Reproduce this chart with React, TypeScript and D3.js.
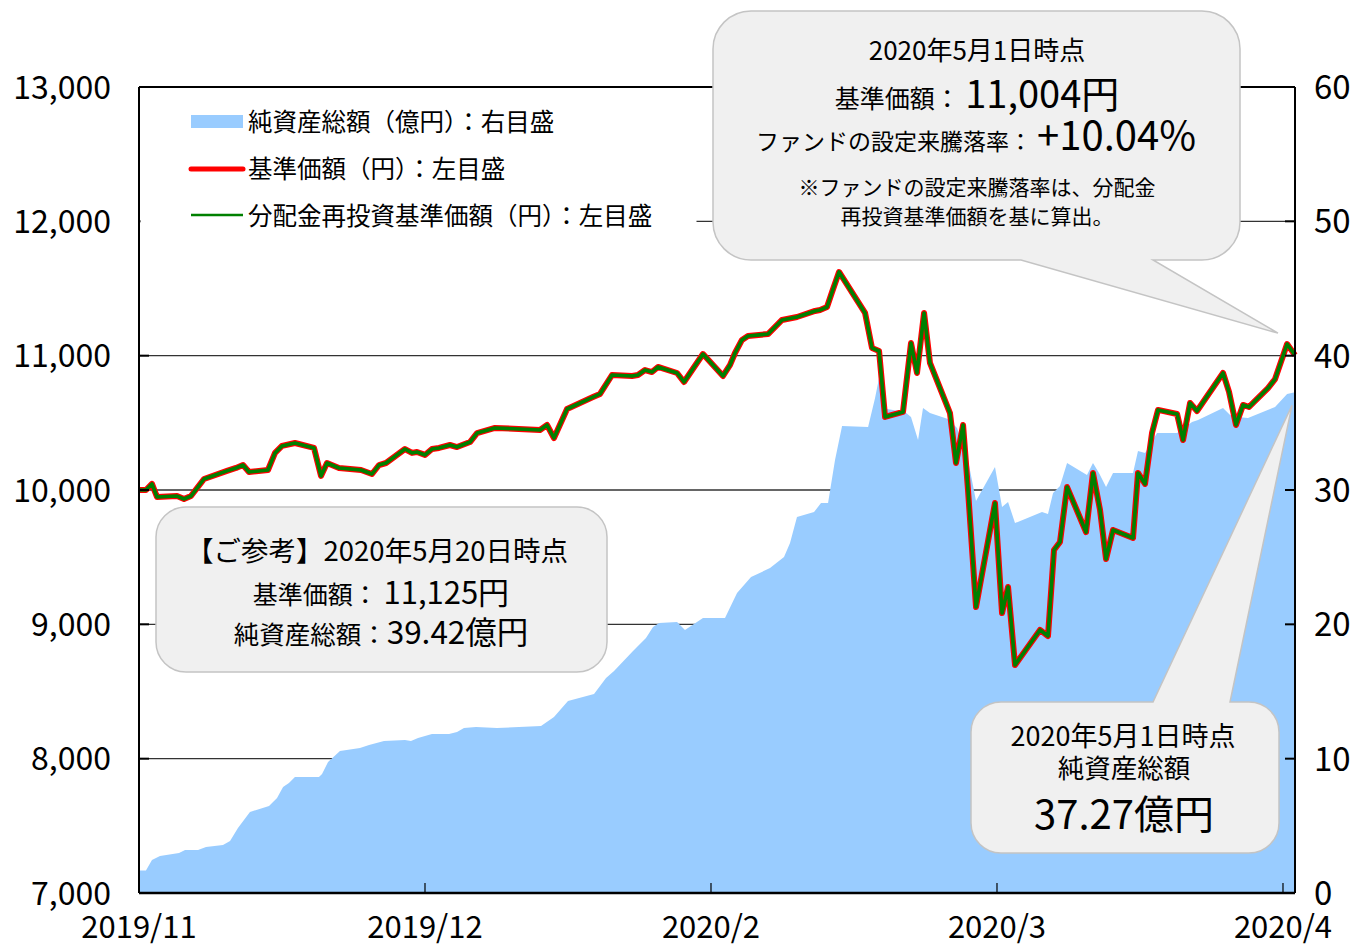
import React from "react";
import * as d3 from "d3";

// ---- data (x = days since start, ~30 days per axis month) ----
const tickLabels = ["2019/11", "2019/12", "2020/2", "2020/3", "2020/4"];
const tickDays = [0, 30, 60, 90, 120];

const navDay = [0,0.73,1.36,1.89,3.99,4.72,5.45,6.82,9.23,10.18,10.91,11.54,13.53,14.27,15.0,16.36,18.36,19.09,19.72,20.98,23.29,24.44,25.18,25.91,27.9,28.64,29.16,30.0,30.73,31.47,32.62,33.36,34.72,35.46,37.34,42.06,42.8,43.53,44.9,47.62,48.36,49.62,51.72,52.34,53.08,53.81,54.44,56.44,57.17,59.16,61.26,62.0,62.52,63.25,63.88,65.98,67.45,69.02,70.91,71.44,72.17,72.7,73.43,76.16,76.89,77.63,78.26,80.14,80.98,81.61,82.35,82.97,85.07,85.7,86.44,86.96,87.8,89.79,90.53,91.16,91.89,94.51,95.35,95.98,96.61,97.35,99.34,100.07,100.81,101.44,102.17,104.27,104.79,105.53,106.26,106.89,108.89,109.52,110.25,110.98,113.71,114.34,115.07,115.81,116.44,118.43,119.17,120.43,121.26];
const navVal = [10000,10000,10045,9948,9955,9933,9955,10082,10142,10164,10186,10134,10149,10276,10328,10350,10313,10105,10201,10164,10149,10119,10186,10201,10305,10276,10283,10261,10305,10313,10335,10320,10357,10424,10462,10447,10484,10387,10603,10692,10715,10856,10849,10856,10893,10878,10916,10871,10804,11012,10849,10931,11020,11117,11147,11161,11266,11288,11333,11340,11362,11474,11623,11318,11057,11035,10544,10581,11094,10871,11318,10946,10573,10201,10484,10000,9129,9903,9084,9278,8697,8958,8913,9553,9613,10022,9687,10127,9851,9486,9702,9643,10127,10045,10424,10596,10566,10372,10648,10588,10871,10730,10484,10633,10618,10759,10826,11087,11004];

const aumDay = [0,0.73,1.36,2.2,4.2,4.83,6.19,7.03,8.81,9.55,10.38,11.64,13.64,14.48,15.11,15.73,16.36,18.88,19.2,19.83,21.08,23.18,24.13,25.7,27.9,28.53,29.27,30.73,32.52,33.36,34.09,35.35,37.55,42.17,43.53,45.0,47.73,48.99,49.83,51.82,53.18,53.92,54.55,56.44,57.27,59.16,61.47,62.73,64.2,66.19,67.66,68.29,69.02,70.81,71.54,72.28,73.01,73.75,76.48,77.21,77.63,78.46,80.35,80.98,81.72,82.24,82.97,84.86,85.81,86.96,87.8,89.79,90.53,91.16,91.89,94.72,95.35,95.88,96.61,97.35,99.44,100.07,100.7,101.44,102.17,104.27,104.79,105.53,106.79,108.89,110.46,111.09,113.71,114.45,115.18,116.33,119.17,120.43,121.26];
const aumVal = [1.67,1.67,2.46,2.75,2.98,3.2,3.2,3.42,3.57,3.87,4.84,6.03,6.48,7.07,7.89,8.19,8.64,8.64,8.86,9.75,10.57,10.79,11.02,11.32,11.39,11.32,11.54,11.84,11.84,11.99,12.28,12.36,12.28,12.43,13.1,14.29,14.81,16.01,16.53,18.02,18.98,19.8,20.1,20.17,19.58,20.47,20.47,22.33,23.52,24.19,25.01,26.06,27.99,28.36,29.03,29.03,32.23,34.77,34.69,36.85,38.34,36.03,35.81,35.43,33.72,36.1,35.73,35.29,34.62,32.23,29.18,31.71,28.74,29.11,27.54,28.36,28.21,29.78,30.3,32.01,31.12,32.01,31.27,30.22,31.27,31.27,32.9,32.76,34.24,34.24,35.06,35.21,36.1,35.58,35.43,35.36,36.18,37.15,37.27];

const leftTicks = [7000, 8000, 9000, 10000, 11000, 12000, 13000];
const rightTicks = [0, 10, 20, 30, 40, 50, 60];
const legendItems = ["純資産総額（億円）：右目盛", "基準価額（円）：左目盛", "分配金再投資基準価額（円）：左目盛"];

const FONT = "'Noto Sans CJK JP', 'Noto Sans', sans-serif";

export default function App() {
  const W = 1360, H = 947;
  const L = 139, R = 1295, T = 87, B = 893;
  const x = d3.scaleLinear().domain([0, 121.26]).range([L, R]);
  const yL = d3.scaleLinear().domain([7000, 13000]).range([B, T]);
  const yR = d3.scaleLinear().domain([0, 60]).range([B, T]);

  const nav = navDay.map((d, i) => [d, navVal[i]] as [number, number]).filter((p) => p[1] != null);
  const aum = aumDay.map((d, i) => [d, aumVal[i]] as [number, number]).filter((p) => p[1] != null);

  const areaGen = d3.area<[number, number]>().x((d) => x(d[0])).y0(yR(0)).y1((d) => yR(d[1]));
  const lineGen = d3.line<[number, number]>().x((d) => x(d[0])).y((d) => yL(d[1]));

  const lastNav = nav[nav.length - 1];
  const lastAum = aum[aum.length - 1];

  const calloutBottom = (x0: number, y0: number, w: number, h: number, r: number, b1: number, b2: number, tx: number, ty: number) =>
    `M${x0 + r},${y0} H${x0 + w - r} A${r},${r} 0 0 1 ${x0 + w},${y0 + r} V${y0 + h - r} A${r},${r} 0 0 1 ${x0 + w - r},${y0 + h} H${b2} L${tx},${ty} L${b1},${y0 + h} H${x0 + r} A${r},${r} 0 0 1 ${x0},${y0 + h - r} V${y0 + r} A${r},${r} 0 0 1 ${x0 + r},${y0} Z`;
  const calloutTop = (x0: number, y0: number, w: number, h: number, r: number, b1: number, b2: number, tx: number, ty: number) =>
    `M${x0 + r},${y0} H${b1} L${tx},${ty} L${b2},${y0} H${x0 + w - r} A${r},${r} 0 0 1 ${x0 + w},${y0 + r} V${y0 + h - r} A${r},${r} 0 0 1 ${x0 + w - r},${y0 + h} H${x0 + r} A${r},${r} 0 0 1 ${x0},${y0 + h - r} V${y0 + r} A${r},${r} 0 0 1 ${x0 + r},${y0} Z`;
  const roundRect = (x0: number, y0: number, w: number, h: number, r: number) =>
    `M${x0 + r},${y0} H${x0 + w - r} A${r},${r} 0 0 1 ${x0 + w},${y0 + r} V${y0 + h - r} A${r},${r} 0 0 1 ${x0 + w - r},${y0 + h} H${x0 + r} A${r},${r} 0 0 1 ${x0},${y0 + h - r} V${y0 + r} A${r},${r} 0 0 1 ${x0 + r},${y0} Z`;

  const cFill = "#f0f0f0";
  const cStroke = "#c4c4c4";

  return (
    <svg width={W} height={H} style={{ position: "absolute", left: 0, top: 0, background: "#fff" }} fontFamily={FONT}>
      <defs>
        <clipPath id="plot">
          <rect x={L} y={T} width={R - L} height={B - T} />
        </clipPath>
      </defs>
      {leftTicks.slice(1, -1).map((v) => (
        <line key={v} x1={L} x2={R} y1={yL(v)} y2={yL(v)} stroke="#333" strokeWidth={1.3} />
      ))}
      <path d={areaGen(aum) || ""} fill="#99ccff" clipPath="url(#plot)" />
      <path d={lineGen(nav) || ""} fill="none" stroke="#ff0000" strokeWidth={6} strokeLinejoin="round" />
      <path d={lineGen(nav) || ""} fill="none" stroke="#008000" strokeWidth={3.6} strokeLinejoin="round" />
      <line x1={L} x2={R} y1={T} y2={T} stroke="#000" strokeWidth={2} />
      <line x1={L} x2={R} y1={B} y2={B} stroke="#000" strokeWidth={2.5} />
      <line x1={L} x2={L} y1={T} y2={B} stroke="#000" strokeWidth={2} />
      <line x1={R} x2={R} y1={T} y2={B} stroke="#000" strokeWidth={2} />
      {leftTicks.map((v) => (
        <g key={"l" + v}>
          <line x1={L} x2={L + 10} y1={yL(v)} y2={yL(v)} stroke="#000" strokeWidth={2} />
          <text x={111} y={yL(v)} dy="0.36em" textAnchor="end" fontSize={32} fill="#000">
            {d3.format(",")(v)}
          </text>
        </g>
      ))}
      {rightTicks.map((v) => (
        <g key={"r" + v}>
          <line x1={R - 10} x2={R} y1={yR(v)} y2={yR(v)} stroke="#000" strokeWidth={2} />
          <text x={1314} y={yR(v)} dy="0.36em" textAnchor="start" fontSize={33} fill="#000">
            {v}
          </text>
        </g>
      ))}
      {tickDays.map((d, i) => (
        <g key={"b" + d}>
          <line x1={x(d)} x2={x(d)} y1={B - 10} y2={B} stroke="#000" strokeWidth={1.2} />
          <text x={x(d)} y={938} textAnchor="middle" fontSize={31} fill="#000">
            {tickLabels[i]}
          </text>
        </g>
      ))}

      {/* legend */}
      <rect x={L + 1.5} y={96} width={556} height={140} fill="#fff" />
      <rect x={191} y={115} width={52} height={13} fill="#99ccff" />
      <line x1={191} x2={243} y1={169} y2={169} stroke="#ff0000" strokeWidth={5} strokeLinecap="round" />
      <line x1={191} x2={243} y1={215} y2={215} stroke="#008000" strokeWidth={2.5} />
      {legendItems.map((t, i) => (
        <text key={t} x={248} y={131 + i * 47} fontSize={24.5} fill="#000">
          {t}
        </text>
      ))}

      {/* top-right callout */}
      <path d={calloutBottom(713, 11, 527, 249, 38, 1021, 1153, x(lastNav[0]) - 17, yL(lastNav[1]) - 22)} fill={cFill} stroke={cStroke} strokeWidth={1.5} />
      <g textAnchor="middle" fill="#000">
        <text x={977} y={60} fontSize={26}>2020年5月1日時点</text>
        <text x={977} y={108}>
          <tspan fontSize={25}>基準価額： </tspan>
          <tspan fontSize={38}>{d3.format(",")(lastNav[1])}円</tspan>
        </text>
        <text x={976} y={150}>
          <tspan fontSize={23}>ファンドの設定来騰落率： </tspan>
          <tspan fontSize={40}>+10.04%</tspan>
        </text>
        <text x={977} y={195} fontSize={21}>※ファンドの設定来騰落率は、分配金</text>
        <text x={977} y={224} fontSize={21}>再投資基準価額を基に算出。</text>
      </g>

      {/* lower-left callout */}
      <path d={roundRect(156, 507, 451, 165, 30)} fill={cFill} stroke={cStroke} strokeWidth={1.5} />
      <g textAnchor="middle" fill="#000">
        <text x={377} y={561} fontSize={27.5}>【ご参考】2020年5月20日時点</text>
        <text x={381} y={604}>
          <tspan fontSize={25}>基準価額： </tspan>
          <tspan fontSize={31}>11,125円</tspan>
        </text>
        <text x={381} y={644}>
          <tspan fontSize={25.5}>純資産総額：</tspan>
          <tspan fontSize={31.5}>39.42億円</tspan>
        </text>
      </g>

      {/* bottom-right callout */}
      <path d={calloutTop(971, 702, 308, 151, 30, 1153, 1230, x(lastAum[0]) - 3, yR(lastAum[1]) + 13)} fill={cFill} stroke={cStroke} strokeWidth={1.5} />
      <g textAnchor="middle" fill="#000">
        <text x={1123} y={746} fontSize={27}>2020年5月1日時点</text>
        <text x={1124} y={778} fontSize={26.5}>純資産総額</text>
        <text x={1124} y={829} fontSize={40}>{lastAum[1]}億円</text>
      </g>
    </svg>
  );
}
